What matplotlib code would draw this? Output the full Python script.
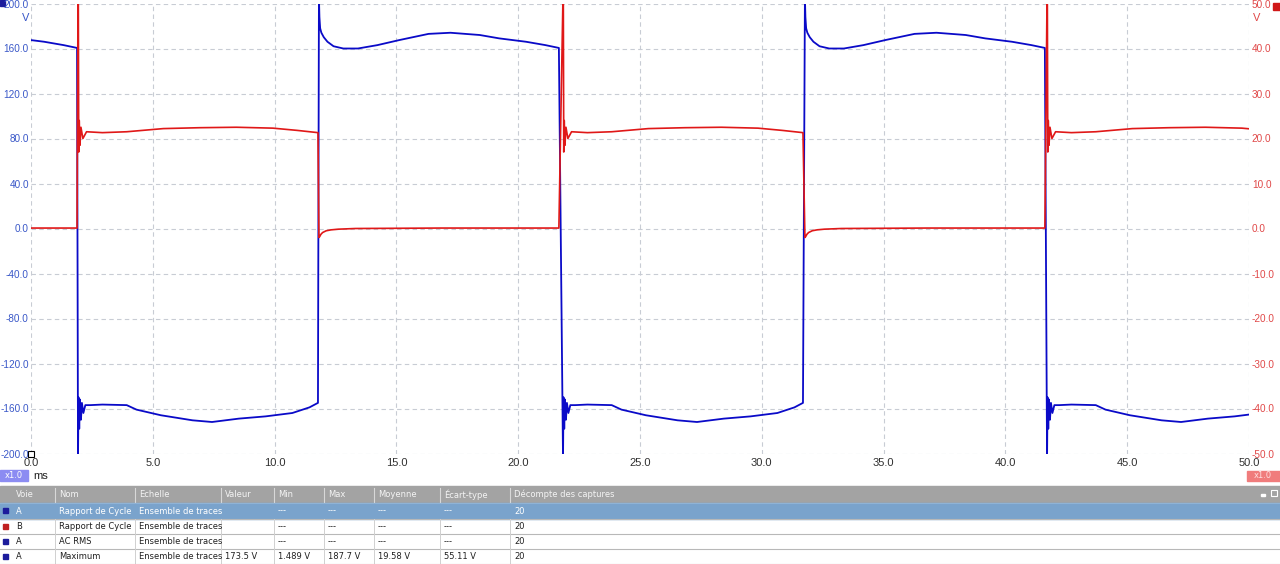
import numpy as np
import matplotlib.pyplot as plt
from matplotlib.patches import Rectangle

# fronts de la voie A (ms)
edges_ms = [1.93, 11.82, 21.84, 31.77, 41.71]

# voie A (V) : palier haut, temps depuis le front montant
a_high_dt = [0, 0.02, 0.05, 0.1, 0.2, 0.35, 0.6, 1.0, 1.6, 2.4, 3.3, 4.5, 5.4, 6.6, 7.4, 8.5, 9.3, 9.85]
a_high_v = [205, 188, 178, 174, 170, 166, 162, 160, 160, 163, 167.5, 173, 174, 172, 169, 166, 163, 160.5]
# voie A : palier bas, temps depuis le front descendant
a_low_dt = [0, 0.02, 0.05, 0.08, 0.12, 0.16, 0.22, 0.3, 0.5, 1.0, 2.0, 2.4, 3.4, 4.7, 5.5, 6.6, 7.7, 8.8, 9.5, 9.85]
a_low_v = [-205, -150, -178, -152, -170, -155, -164, -157, -157, -156.5, -157, -161, -166, -170.5, -172, -169, -167, -164, -159, -155]

# voie B (V) : palier ~22 V apres front descendant de A
b_on_dt = [0, 0.01, 0.03, 0.05, 0.08, 0.12, 0.2, 0.35, 1.0, 2.0, 3.5, 5.0, 6.5, 8.0, 9.0, 9.85]
b_on_v = [52, 55, 17, 24, 18.5, 22.5, 20, 21.5, 21.3, 21.5, 22.2, 22.4, 22.5, 22.3, 21.8, 21.3]
# voie B : retour a 0 apres front montant de A
b_off_dt = [0, 0.03, 0.08, 0.15, 0.3, 0.5, 0.8, 1.5, 5.0, 9.85]
b_off_v = [-2.0, -1.8, -1.3, -0.9, -0.5, -0.3, -0.15, 0, 0.1, 0.1]

x_ticks = [0, 5, 10, 15, 20, 25, 30, 35, 40, 45, 50]
a_ticks = [200, 160, 120, 80, 40, 0, -40, -80, -120, -160, -200]
b_ticks = [50, 40, 30, 20, 10, 0, -10, -20, -30, -40, -50]

# tableau des mesures
tab_cols = ["Voie", "Nom", "Echelle", "Valeur", "Min", "Max", "Moyenne", "Écart-type", "Décompte des captures"]
tab_rows = [
    ["A", "Rapport de Cycle", "Ensemble de traces", "", "---", "---", "---", "---", "20"],
    ["B", "Rapport de Cycle", "Ensemble de traces", "", "---", "---", "---", "---", "20"],
    ["A", "AC RMS", "Ensemble de traces", "", "---", "---", "---", "---", "20"],
    ["A", "Maximum", "Ensemble de traces", "173.5 V", "1.489 V", "187.7 V", "19.58 V", "55.11 V", "20"],
]
tab_voie_color = ["#1c1c9c", "#c02020", "#1c1c9c", "#1c1c9c"]


def build(edges, dt1, v1, dt2, v2):
    # phase 1 avant le premier front, puis alternance
    half = edges[1] - edges[0]
    starts = [edges[0] - half] + list(edges)
    t, v = [], []
    for i, s in enumerate(starts):
        dt, vv = (dt1, v1) if i % 2 == 0 else (dt2, v2)
        t += [s + d for d in dt]
        v += list(vv)
    return np.array(t), np.array(v)


a_t, a_v = build(edges_ms, a_high_dt, a_high_v, a_low_dt, a_low_v)
b_t, b_v = build(edges_ms, b_off_dt, b_off_v, b_on_dt, b_on_v)

W, H = 1280, 564
fig = plt.figure(figsize=(W / 100, H / 100), dpi=100)

# calque en pixels pour le cadre et le tableau
ov = fig.add_axes([0, 0, 1, 1])
ov.set_xlim(0, W)
ov.set_ylim(H, 0)
ov.axis("off")

ax = fig.add_axes([31 / W, 1 - 453.5 / H, 1218 / W, 450 / H])
ax.set_facecolor("none")
ax.plot(a_t, a_v, color="#0a0ac8", lw=1.3, zorder=3)
ax.set_xlim(0, 50)
ax.set_ylim(-200, 200)
ax.set_xticks(x_ticks)
ax.set_xticklabels([f"{x:.1f}" for x in x_ticks])
ax.set_yticks(a_ticks)
ax.set_yticklabels([f"{y:.1f}" for y in a_ticks])
ax.tick_params(axis="x", length=0, pad=3, labelsize=8, labelcolor="#303030")
ax.tick_params(axis="y", length=0, pad=1.5, labelsize=7.2, labelcolor="#3a58c8")
ax.grid(True, color="#c8ccd4", ls=(0, (4, 3)), lw=0.8)
for s in ax.spines.values():
    s.set_visible(False)
for lab in ax.get_xticklabels() + ax.get_yticklabels():
    lab.set_family("Liberation Sans")

bx = ax.twinx()
bx.plot(b_t, b_v, color="#e01818", lw=1.2, zorder=3)
bx.set_ylim(-50, 50)
bx.set_yticks(b_ticks)
bx.set_yticklabels([f"{y:.1f}" for y in b_ticks])
bx.tick_params(axis="y", length=0, pad=2, labelsize=7.2, labelcolor="#e04848")
for s in bx.spines.values():
    s.set_visible(False)
for lab in bx.get_yticklabels():
    lab.set_family("Liberation Sans")

# petit repere au coin bas gauche
ax.plot([0], [-200], marker="s", ms=5, mfc="white", mec="black", mew=0.8, clip_on=False, zorder=5)

# unites et indicateurs de voie
ov.text(29, 18, "V", color="#3a58c8", fontsize=8, ha="right", va="center", family="Liberation Sans")
ov.text(1253, 18, "V", color="#e04848", fontsize=8, ha="left", va="center", family="Liberation Sans")
ov.add_patch(Rectangle((0, 0), 5, 6, color="#1c1c9c"))
ov.add_patch(Rectangle((1273, 3), 7, 7, color="#d01818"))

# zoom x1.0 et unite ms
ov.add_patch(Rectangle((0, 470), 28, 11, color="#8c8cf2"))
ov.text(14, 475.5, "x1.0", color="white", fontsize=6, ha="center", va="center")
ov.text(33, 476, "ms", color="#202020", fontsize=8, ha="left", va="center", family="Liberation Sans")
ov.add_patch(Rectangle((1247, 471), 33, 10, color="#f07c7c"))
ov.text(1263, 476, "x1.0", color="#ffe0e0", fontsize=6, ha="center", va="center")

# tableau
col_x = [0, 55, 135, 221, 274, 324, 374, 440, 510]
row_y = [486, 503, 519, 534, 549, 564]
ov.add_patch(Rectangle((0, row_y[0]), W, row_y[1] - row_y[0], color="#a3a3a3"))
ov.add_patch(Rectangle((0, row_y[1]), W, row_y[2] - row_y[1], color="#7aa3cc"))
for j, name in enumerate(tab_cols):
    ov.text(col_x[j] + 4 if j else 16, 494.5, name, color="#f4f4f4", fontsize=6, ha="left", va="center")
    if j:
        ov.plot([col_x[j], col_x[j]], [row_y[0] + 2, row_y[1] - 1], color="#d8d8d8", lw=0.8)
for i, row in enumerate(tab_rows):
    y0, y1 = row_y[i + 1], row_y[i + 2]
    yc = (y0 + y1) / 2
    txt_col = "white" if i == 0 else "#202020"
    ov.add_patch(Rectangle((3, yc - 3), 5, 5, color=tab_voie_color[i]))
    for j, val in enumerate(row):
        x = 16 if j == 0 else col_x[j] + 4
        ov.text(x, yc, val, color=txt_col, fontsize=6, ha="left", va="center")
        if j and i > 0:
            ov.plot([col_x[j], col_x[j]], [y0, y1], color="#d0d0d0", lw=0.7)
    ov.plot([0, W], [y1, y1], color="#b8b8b8", lw=0.8)
ov.plot([0, W], [row_y[1], row_y[1]], color="#8fb3d6", lw=0.8)

# boutons de la barre du tableau
ov.add_patch(Rectangle((1261, 494), 4, 2, color="white"))
ov.add_patch(Rectangle((1271, 490), 6, 6, fill=False, ec="white", lw=0.8))

fig.savefig("out.png", dpi=100)
